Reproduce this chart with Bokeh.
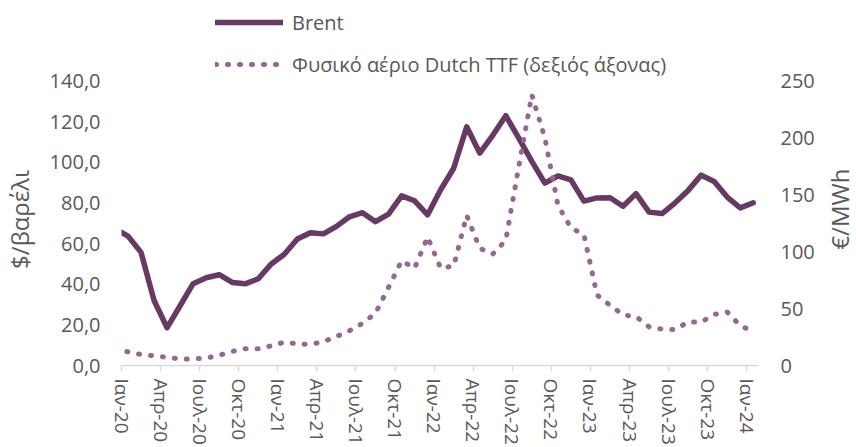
import math
from bokeh.plotting import figure
from bokeh.layouts import row
from bokeh.models import Range1d, LinearAxis, FixedTicker, Legend, LegendItem, Label
from bokeh.embed import file_html
from bokeh.resources import INLINE

# ---- data (monthly averages, Dec-2019 .. Jan-2024) ----
months = (["Δεκ-19"]
          + [f"{m}-{y}" for y in ("20", "21", "22", "23")
             for m in ("Ιαν", "Φεβ", "Μαρ", "Απρ", "Μαϊ", "Ιουν",
                       "Ιουλ", "Αυγ", "Σεπ", "Οκτ", "Νοε", "Δεκ")]
          + ["Ιαν-24"])

brent = [67.3,
         63.7, 55.7, 32.0, 18.6, 29.4, 40.3, 43.2, 44.7, 40.9, 40.2, 42.7, 50.0,
         54.8, 62.3, 65.4, 64.8, 68.5, 73.2, 75.2, 70.8, 74.5, 83.5, 81.1, 74.2,
         86.5, 97.1, 117.5, 104.6, 113.3, 123.0, 111.9, 100.5, 89.8, 93.3, 91.4, 80.9,
         82.5, 82.6, 78.4, 84.6, 75.5, 74.8, 80.1, 86.2, 93.7, 90.6, 82.9, 77.6,
         80.1]

ttf = [14.0,
       12.0, 9.7, 8.5, 7.2, 5.8, 5.8, 6.5, 9.0, 12.4, 14.7, 14.7, 17.3,
       20.5, 19.0, 18.5, 21.0, 25.5, 30.5, 37.0, 46.0, 68.7, 92.0, 85.5, 113.0,
       85.5, 87.5, 132.0, 103.0, 98.0, 110.0, 175.0, 238.0, 200.0, 141.0, 121.0, 115.0,
       62.0, 53.0, 44.5, 43.0, 34.0, 32.0, 31.5, 38.3, 38.0, 45.0, 47.0, 35.0,
       30.0]

x_tick_pos = [0, 3, 6, 9, 12, 15, 18, 21, 24, 27, 30, 33, 36, 39, 42, 45, 48]
x_tick_labels = ["Ιαν-20", "Απρ-20", "Ιουλ-20", "Οκτ-20",
                 "Ιαν-21", "Απρ-21", "Ιουλ-21", "Οκτ-21",
                 "Ιαν-22", "Απρ-22", "Ιουλ-22", "Οκτ-22",
                 "Ιαν-23", "Απρ-23", "Ιουλ-23", "Οκτ-23",
                 "Ιαν-24"]
left_ticks = [0, 20, 40, 60, 80, 100, 120, 140]
left_tick_labels = ["0,0", "20,0", "40,0", "60,0", "80,0", "100,0", "120,0", "140,0"]
right_ticks = [0, 50, 100, 150, 200, 250]
left_title = "$/βαρέλι"
right_title = "€/MWh"

# month i of the list is plotted at mid-month; Jan-20 starts at 0
xpos = [i - 0.5 for i in range(len(months))]

FONT = "Open Sans"
TXT = "#595959"
BRENT_C = "#673A64"
TTF_C = "#93698F"

H = 447
W_LEFT, W_MAIN, W_RIGHT = 44, 778, 34

# layout: the plotting frame reaches the top of the canvas (legend lives in it);
# the axes' top values (140 / 250) sit ~80px below the canvas top.
FRAME_H = 364.5
TOP_PAD = 80.5
scale = FRAME_H / (FRAME_H - TOP_PAD)
left_top = left_ticks[-1] * scale
right_top = right_ticks[-1] * scale

p = figure(width=W_MAIN, height=H, output_backend="svg", toolbar_location=None,
           x_range=Range1d(0, 48.9), y_range=Range1d(0, left_top),
           min_border_left=77, min_border_right=64, min_border_top=0,
           min_border_bottom=10)
p.extra_y_ranges = {"ttf": Range1d(0, right_top)}
p.outline_line_color = None
p.xgrid.visible = False
p.ygrid.visible = False
p.background_fill_color = "white"
p.border_fill_color = "white"

# x axis
xa = p.xaxis[0]
xa.ticker = FixedTicker(ticks=x_tick_pos)
xa.major_label_overrides = {t: l for t, l in zip(x_tick_pos, x_tick_labels)}
xa.major_label_orientation = "vertical"
xa.axis_line_color = "#D9D9D9"
xa.axis_line_width = 1.5
xa.major_tick_line_color = "#D9D9D9"
xa.major_tick_line_width = 1.5
xa.major_tick_out = 6
xa.major_tick_in = 0
xa.minor_tick_line_color = None
xa.major_label_standoff = 7
xa.major_label_text_font = FONT
xa.major_label_text_font_size = "19px"
xa.major_label_text_color = TXT

# left axis
ya = p.yaxis[0]
ya.ticker = FixedTicker(ticks=left_ticks)
ya.major_label_overrides = {t: l for t, l in zip(left_ticks, left_tick_labels)}
ya.axis_line_color = None
ya.major_tick_line_color = None
ya.major_tick_out = 0
ya.minor_tick_line_color = None
ya.major_label_standoff = 21
ya.major_label_text_font = FONT
ya.major_label_text_font_size = "20px"
ya.major_label_text_color = TXT

# right axis
ra = LinearAxis(y_range_name="ttf", ticker=FixedTicker(ticks=right_ticks))
ra.axis_line_color = None
ra.major_tick_line_color = None
ra.major_tick_out = 0
ra.minor_tick_line_color = None
ra.major_label_standoff = 22
ra.major_label_text_font = FONT
ra.major_label_text_font_size = "20px"
ra.major_label_text_color = TXT
p.add_layout(ra, "right")

r_brent = p.line(xpos, brent, line_color=BRENT_C, line_width=5.5,
                 line_cap="round", line_join="round")
r_ttf = p.line(xpos, ttf, y_range_name="ttf", line_color=TTF_C, line_width=5,
               line_dash="1 11", line_cap="round", line_join="round")

legend = Legend(items=[LegendItem(label="Brent", renderers=[r_brent]),
                       LegendItem(label="Φυσικό αέριο Dutch TTF (δεξιός άξονας)", renderers=[r_ttf])],
                location=(90, FRAME_H - 81), orientation="vertical",
                glyph_width=68, glyph_height=20, label_height=20,
                label_standoff=9, spacing=15, padding=4, margin=0,
                label_text_font=FONT, label_text_font_size="20px",
                label_text_color=TXT,
                background_fill_alpha=0, border_line_alpha=0)
p.add_layout(legend, "center")


def title_strip(width, text, cx, start_from_top):
    # rotated title; the text begins at (cx, start_from_top) and runs upwards
    f = figure(width=width, height=H, output_backend="svg", toolbar_location=None,
               x_range=Range1d(0, width), y_range=Range1d(H, 0),
               min_border=0, x_axis_location=None, y_axis_location=None)
    f.outline_line_color = None
    f.grid.visible = False
    f.background_fill_color = "white"
    f.border_fill_color = "white"
    f.add_layout(Label(x=cx, y=start_from_top, text=text, angle=math.pi / 2,
                       text_align="center", text_baseline="middle",
                       text_font=FONT, text_font_size="24px", text_color=TXT))
    return f


left_fig = title_strip(W_LEFT, left_title, 19, 268)
right_fig = title_strip(W_RIGHT, right_title, 17, 255.5)

layout = row(left_fig, p, right_fig, spacing=0)
open("out.html", "w").write(file_html(layout, INLINE))
